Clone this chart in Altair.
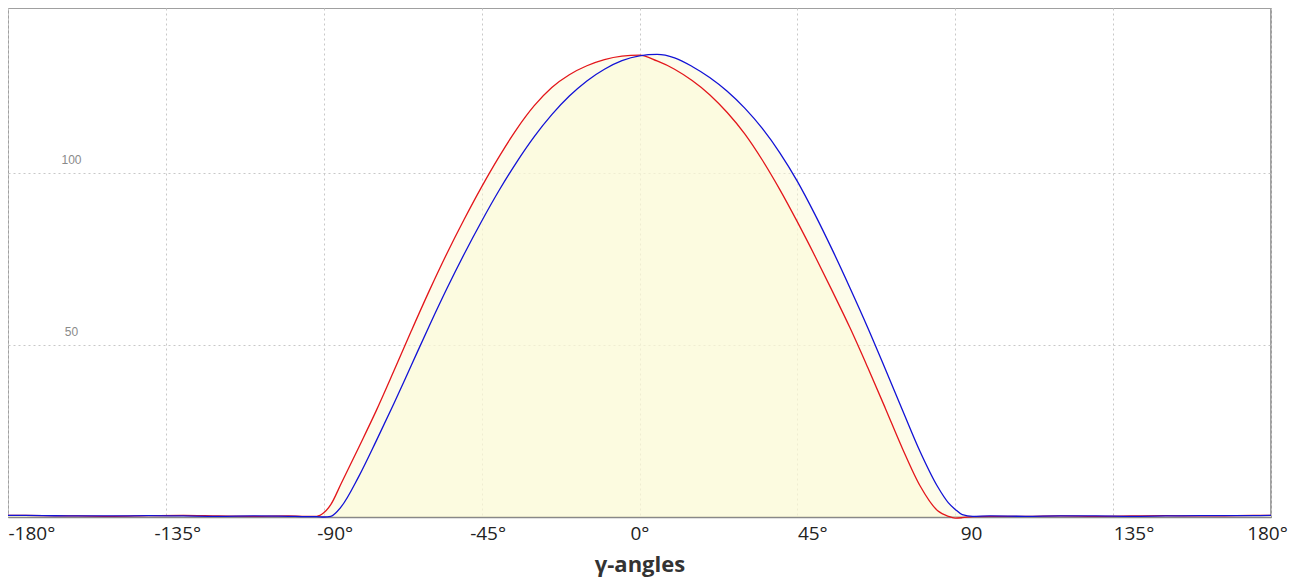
import altair as alt
import pandas as pd

angles = [-180, -170, -160, -150, -140, -130, -120, -110, -100, -95, -92, -90, -88, -85,
          -80, -75, -70, -65, -60, -55, -50, -45, -40, -35, -30, -25, -20, -15, -10, -5,
          0, 5, 10, 15, 20, 25, 30, 35, 40, 45, 50, 55, 60, 65, 70, 75, 80, 85, 88, 90,
          92, 95, 100, 110, 120, 130, 140, 150, 160, 170, 180]

red = [0.5, 0.4, 0.3, 0.2, 0.4, 0.5, 0.3, 0.2, 0.3, 0.2, 0.2, 1.2, 3.6, 9.8,
       20.3, 31.0, 42.5, 54.2, 65.6, 76.4, 86.5, 96.0, 104.8, 112.8, 119.6, 124.9, 128.6, 131.2, 133.0, 134.0,
       134.3, 132.6, 130.2, 126.9, 122.8, 117.6, 111.4, 103.8, 95.2, 85.8, 75.9, 65.6, 55.0, 43.6, 31.8, 19.8,
       9.0, 1.8, 0.2, -0.3, -0.2, 0.1, 0.2, 0.2, 0.3, 0.2, 0.3, 0.4, 0.3, 0.4, 0.5]

blue = [0.5, 0.4, 0.3, 0.3, 0.4, 0.3, 0.2, 0.3, 0.2, 0.1, 0.1, 0.0, 0.2, 3.0,
        11.8, 22.2, 33.0, 44.2, 55.4, 66.2, 76.4, 86.0, 95.0, 103.2, 110.6, 117.0, 122.4, 126.8, 130.2, 132.7,
        134.1, 134.5, 133.5, 131.0, 127.8, 123.8, 118.9, 113.0, 105.9, 97.6, 88.0, 77.6, 66.6, 55.2, 43.2, 31.0,
        19.0, 8.8, 4.2, 2.2, 0.7, 0.2, 0.3, 0.2, 0.3, 0.3, 0.2, 0.3, 0.4, 0.4, 0.5]

series_names = ["red curve", "blue curve"]
series_colors = ["#e3161b", "#1212d6"]

rows = []
for name, vals in zip(series_names, [red, blue]):
    for a, v in zip(angles, vals):
        rows.append({"angle": a, "value": v, "series": name})
df = pd.DataFrame(rows)

x_ticks = [-180, -135, -90, -45, 0, 45, 90, 135, 180]

x_axis = alt.Axis(
    values=x_ticks,
    title="γ-angles",
    titleFont="Open Sans",
    titleFontSize=22,
    titleFontWeight="bold",
    titleColor="#333333",
    titlePadding=11,
    labelFont="Open Sans",
    labelFontSize=19,
    labelColor="#222222",
    labelPadding=7,
    labelExpr="datum.value == 90 ? '90' : datum.value + '°'",
    labelAlign={"condition": {"test": "datum.value == 180 || datum.value == 0", "value": "center"}, "value": "left"},
    labelOffset={"condition": [
        {"test": "datum.value == -135 || datum.value == -45", "value": -12},
        {"test": "datum.value == -90", "value": -7},
        {"test": "datum.value == 90", "value": 5},
        {"test": "datum.value == 180", "value": -4}], "value": 0},
    labelFlush=False,
    labelOverlap=False,
    ticks=False,
    domainColor="#888888",
    domainWidth=1.5,
    grid=True,
    gridColor="#c8c8c8",
    gridDash=[2, 3],
    gridWidth=1,
)

y_axis = alt.Axis(
    values=[50, 100],
    title=None,
    domain=False,
    ticks=False,
    tickSize=0,
    labelFont="Liberation Sans",
    labelFontSize=12,
    labelColor="#8a8a8a",
    labelAlign="center",
    labelBaseline="bottom",
    labelPadding=-63,
    labelOffset=-7,
    grid=True,
    gridColor="#c8c8c8",
    gridDash=[2, 3],
    gridWidth=1,
)

base = alt.Chart(df).encode(
    x=alt.X("angle:Q", scale=alt.Scale(domain=[-180, 180], nice=False, zero=False), axis=x_axis),
    y=alt.Y("value:Q", scale=alt.Scale(domain=[0, 148], nice=False), axis=y_axis, stack=None),
)

areas = base.mark_area(interpolate="monotone", color="#fcf9d6", opacity=0.5).encode(
    detail="series:N"
)

lines = base.mark_line(interpolate="monotone", strokeWidth=1.3).encode(
    color=alt.Color("series:N", scale=alt.Scale(domain=series_names, range=series_colors), legend=None)
)

chart = alt.layer(areas, lines).properties(
    width=1263,
    height=509,
    padding={"left": 0, "top": 0, "right": 18, "bottom": 63},
    autosize=alt.AutoSizeParams(type="none"),
).configure_view(stroke="#a0a0a0", strokeWidth=2)

chart.save("out.html", embed_options={"renderer": "svg", "actions": False})
